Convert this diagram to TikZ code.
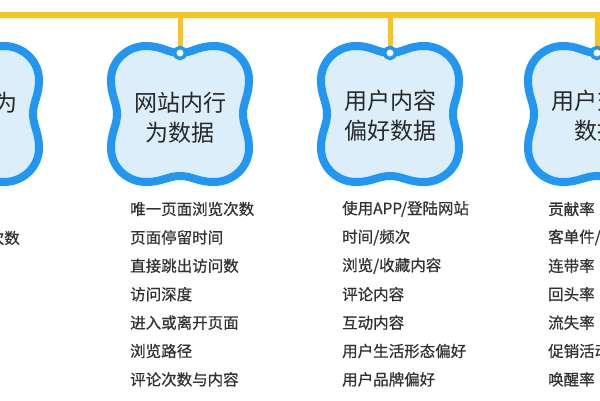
\documentclass[tikz,border=0pt]{standalone}
\usepackage{fontspec}
\setmainfont{Noto Sans CJK SC}
\newfontfamily\cjkmed[FakeBold=0.6]{Noto Sans CJK SC}
\definecolor{busyellow}{RGB}{247,197,32}
\definecolor{cloudblue}{RGB}{33,150,243}
\definecolor{cloudfill}{RGB}{221,238,251}
\definecolor{textdark}{RGB}{40,40,40}
\definecolor{listgray}{RGB}{50,50,50}
\tikzset{
  cloudpath/.pic={
    \path[fill=cloudfill,draw=cloudblue,line width=8pt]
      (0,-61) .. controls (12,-61) and (18,-68) .. (34,-68)
      .. controls (53,-68) and (69,-53) .. (69,-34)
      .. controls (69,-18) and (63,-12) .. (63,0)
      .. controls (63,12) and (69,18) .. (69,34)
      .. controls (69,53) and (53,68) .. (34,68)
      .. controls (18,68) and (12,62) .. (0,62)
      .. controls (-12,62) and (-18,68) .. (-34,68)
      .. controls (-53,68) and (-69,53) .. (-69,34)
      .. controls (-69,18) and (-63,12) .. (-63,0)
      .. controls (-63,-12) and (-69,-18) .. (-69,-34)
      .. controls (-69,-53) and (-53,-68) .. (-34,-68)
      .. controls (-18,-68) and (-12,-61) .. (0,-61) -- cycle;
  },
  ringstyle/.style={circle,minimum size=11pt,inner sep=0pt,fill=white,draw=cloudblue,line width=3.5pt},
  busline/.style={draw=busyellow,line width=6pt},
  stemline/.style={draw=busyellow,line width=5pt},
  cloudtext/.style={align=center,text=textdark,inner sep=0pt,font=\fontsize{23}{30}\selectfont},
  itemtext/.style={anchor=west,inner sep=0pt,text=listgray,font=\cjkmed\fontsize{15.5}{18}\selectfont},
}
\begin{document}
\begin{tikzpicture}[x=1pt,y=-1pt]
\useasboundingbox (0,0) rectangle (600,400);
\clip (0,0) rectangle (600,400);
\fill[white] (0,0) rectangle (600,400);
% bus line
\coordinate (busL) at (-10,15);
\coordinate (busR) at (610,15);
\draw[busline] (busL) -- (busR);
% clouds
\foreach \cx/\nm in {-30/1,180/2,390/3,597/4}{
  \coordinate (bus\nm) at (\cx,15);
  \draw[stemline] (bus\nm) -- (\cx,50);
  \pic at (\cx,114) {cloudpath};
  \node[ringstyle] (ring\nm) at (\cx,53) {};
}
\node[cloudtext,anchor=east] (c1) at (18,103) {用户行为};
\node[cloudtext] (c2) at (180,118) {网站内行\\为数据};
\node[cloudtext] (c3) at (390,116) {用户内容\\偏好数据};
\node[cloudtext] (c4) at (597,116) {用户交易\\数据};
% lists
\node[itemtext,anchor=east] (l1r2) at (20,238) {访问次数};
\foreach \t [count=\i] in {唯一页面浏览次数,页面停留时间,直接跳出访问数,访问深度,进入或离开页面,浏览路径,评论次数与内容}{
  \node[itemtext] (l2r\i) at (130,{209+28.4*(\i-1)}) {\t};
}
\foreach \t [count=\i] in {使用APP/登陆网站,时间/频次,浏览/收藏内容,评论内容,互动内容,用户生活形态偏好,用户品牌偏好}{
  \node[itemtext] (l3r\i) at (342,{209+28.4*(\i-1)}) {\t};
}
\foreach \t [count=\i] in {贡献率,客单件/客单价,连带率,回头率,流失率,促销活动响应率,唤醒率}{
  \node[itemtext] (l4r\i) at (548,{209+28.4*(\i-1)}) {\t};
}
\end{tikzpicture}
\end{document}
